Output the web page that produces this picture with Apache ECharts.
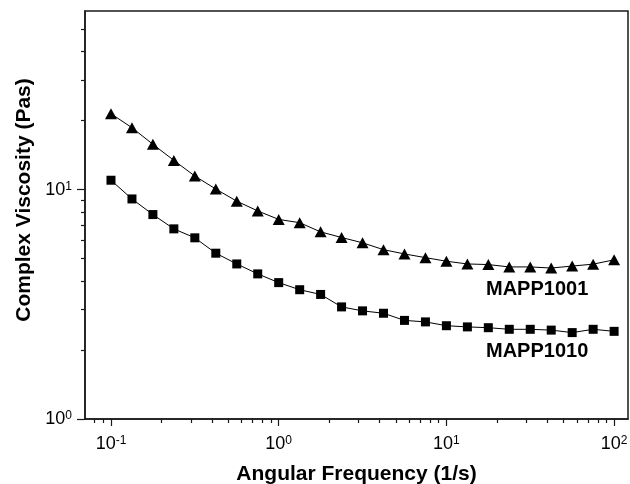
<!DOCTYPE html>
<html>
<head>
<meta charset="utf-8">
<script src="https://cdn.jsdelivr.net/npm/echarts@6/dist/echarts.min.js"></script>
<style>
html,body{margin:0;padding:0;background:#fff;}
#chart{width:630px;height:484px;}
</style>
</head>
<body>
<div id="chart"></div>
<script>
// Angular frequency (1/s)
var freq = [0.1, 0.1334, 0.1778, 0.2371, 0.3162, 0.4217, 0.5623, 0.7499, 1, 1.334, 1.778, 2.371, 3.162, 4.217, 5.623, 7.499, 10, 13.34, 17.78, 23.71, 31.62, 42.17, 56.23, 74.99, 100];
// Complex viscosity (Pas)
var mapp1001 = [21.4, 18.6, 15.75, 13.4, 11.45, 10.05, 8.9, 8.07, 7.41, 7.17, 6.54, 6.18, 5.86, 5.47, 5.24, 5.05, 4.87, 4.74, 4.71, 4.6, 4.6, 4.55, 4.64, 4.73, 4.94];
var mapp1010 = [10.98, 9.1, 7.78, 6.74, 6.16, 5.28, 4.74, 4.29, 3.93, 3.66, 3.49, 3.08, 2.96, 2.89, 2.69, 2.65, 2.55, 2.52, 2.5, 2.46, 2.46, 2.44, 2.38, 2.46, 2.41];
var seriesNames = ['MAPP1001', 'MAPP1010'];
// ticks
var xMajorTicks = [0.1, 1, 10, 100];
var xMajorLabels = ['-1', '0', '1', '2'];
var xMinorTicks = [0.08, 0.09, 0.2, 0.3, 0.4, 0.5, 0.6, 0.7, 0.8, 0.9, 2, 3, 4, 5, 6, 7, 8, 9, 20, 30, 40, 50, 60, 70, 80, 90];
var yMajorTicks = [1, 10];
var yMajorLabels = ['0', '1'];
var yMinorTicks = [2, 3, 4, 5, 6, 7, 8, 9, 20, 30, 40, 50];
var xMin = 0.07, xMax = 121, yMin = 1, yMax = 60;

var FONT = '"Liberation Sans", Arial, Helvetica, sans-serif';
var AX = '#1a1a1a';

function pairs(xs, ys) { return xs.map(function (x, i) { return [x, ys[i]]; }); }
function powLabel(major, exps) {
  return function (v) {
    for (var i = 0; i < major.length; i++) {
      if (Math.abs(v / major[i] - 1) < 1e-6) return '{b|10}{s|' + exps[i] + '}';
    }
    return '';
  };
}
var richLbl = {
  b: { fontSize: 18, fontFamily: FONT, color: '#000' },
  s: { fontSize: 12, fontFamily: FONT, color: '#000', verticalAlign: 'top', padding: [0, 0, 6, 0] }
};

var chart = echarts.init(document.getElementById('chart'), null, { renderer: 'canvas' });
chart.setOption({
  animation: false,
  backgroundColor: '#fff',
  grid: { left: 85, top: 11, right: 2, bottom: 65, show: true, borderColor: AX, borderWidth: 1.5, containLabel: false, outerBoundsMode: 'none' },
  xAxis: [{
    type: 'log', logBase: 10, min: xMin, max: xMax, position: 'bottom',
    name: 'Angular Frequency (1/s)', nameLocation: 'middle', nameGap: 45,
    nameTextStyle: { fontFamily: FONT, fontSize: 21, fontWeight: 'bold', color: '#000' },
    axisLine: { show: true, lineStyle: { color: AX, width: 1.5 } },
    axisTick: { show: true, inside: false, length: 7, lineStyle: { color: AX, width: 1.2 }, customValues: xMajorTicks },
    axisLabel: { show: true, margin: 16, customValues: xMajorTicks, formatter: powLabel(xMajorTicks, xMajorLabels), rich: richLbl },
    splitLine: { show: false }
  }, {
    type: 'log', logBase: 10, min: xMin, max: xMax, position: 'bottom',
    axisLine: { show: false },
    axisTick: { show: true, inside: false, length: 4, lineStyle: { color: AX, width: 1.2 }, customValues: xMinorTicks },
    axisLabel: { show: false },
    splitLine: { show: false }
  }],
  yAxis: [{
    type: 'log', logBase: 10, min: yMin, max: yMax, position: 'left',
    name: 'Complex Viscosity (Pas)', nameLocation: 'middle', nameGap: 50,
    nameTextStyle: { fontFamily: FONT, fontSize: 21, fontWeight: 'bold', color: '#000', padding: [0, 0, 0, 30] },
    axisLine: { show: true, lineStyle: { color: AX, width: 1.5 } },
    axisTick: { show: true, inside: false, length: 8, lineStyle: { color: AX, width: 1.2 }, customValues: yMajorTicks },
    axisLabel: { show: true, margin: 13, customValues: yMajorTicks, formatter: powLabel(yMajorTicks, yMajorLabels), rich: richLbl },
    splitLine: { show: false }
  }, {
    type: 'log', logBase: 10, min: yMin, max: yMax, position: 'left',
    axisLine: { show: false },
    axisTick: { show: true, inside: false, length: 4, lineStyle: { color: AX, width: 1.2 }, customValues: yMinorTicks },
    axisLabel: { show: false },
    splitLine: { show: false }
  }],
  series: [{
    name: seriesNames[0], type: 'line', xAxisIndex: 0, yAxisIndex: 0,
    data: pairs(freq, mapp1001),
    symbol: 'triangle', symbolSize: [12, 11],
    lineStyle: { color: '#000', width: 1 }, itemStyle: { color: '#000' }
  }, {
    name: seriesNames[1], type: 'line', xAxisIndex: 0, yAxisIndex: 0,
    data: pairs(freq, mapp1010),
    symbol: 'rect', symbolSize: 9,
    lineStyle: { color: '#000', width: 1 }, itemStyle: { color: '#000' }
  }],
  graphic: [{
    type: 'text', x: 486, y: 289,
    style: { text: seriesNames[0], fontFamily: FONT, fontSize: 20, fontWeight: 'bold', fill: '#000', verticalAlign: 'middle' }
  }, {
    type: 'text', x: 486, y: 351,
    style: { text: seriesNames[1], fontFamily: FONT, fontSize: 20, fontWeight: 'bold', fill: '#000', verticalAlign: 'middle' }
  }]
});
</script>
</body>
</html>
